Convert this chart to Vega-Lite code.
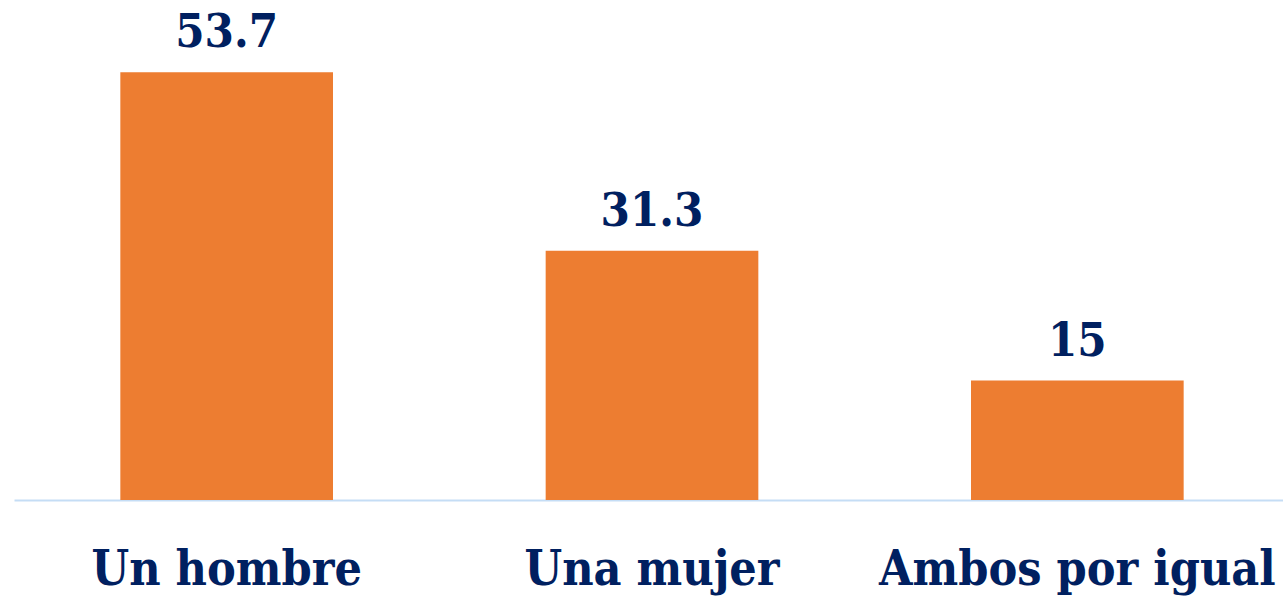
{
  "$schema": "https://vega.github.io/schema/vega-lite/v6.json",
  "width": 1276,
  "height": 478,
  "autosize": {"type": "none"},
  "padding": {"left": 14, "top": 22, "right": 0, "bottom": 97},
  "background": "white",
  "data": {"values": [
    {"cat": "Un hombre", "v": 53.7, "label": "53.7"},
    {"cat": "Una mujer", "v": 31.3, "label": "31.3"},
    {"cat": "Ambos por igual", "v": 15, "label": "15"}
  ]},
  "encoding": {
    "x": {"field": "cat", "type": "nominal", "sort": null,
      "scale": {"paddingInner": 0.5, "paddingOuter": 0.25},
      "axis": {"title": null, "labelAngle": 0, "ticks": false, "tickSize": 0,
        "domainColor": "#C5DDF5", "domainWidth": 2, "labelLimit": 0,
        "labelFont": "DejaVu Serif Condensed", "labelFontWeight": "bold", "labelFontSize": 48,
        "labelColor": "#002060", "labelBaseline": "alphabetic", "labelPadding": 84}},
    "y": {"field": "v", "type": "quantitative", "scale": {"domain": [0, 60]}, "axis": null}
  },
  "layer": [
    {"mark": {"type": "bar", "color": "#ED7D31"}},
    {"mark": {"type": "text", "baseline": "alphabetic", "dy": -25,
      "font": "DejaVu Serif Condensed", "fontWeight": "bold", "fontSize": 47, "color": "#002060"},
     "encoding": {"text": {"field": "label"}}}
  ],
  "config": {"view": {"stroke": null}}
}
